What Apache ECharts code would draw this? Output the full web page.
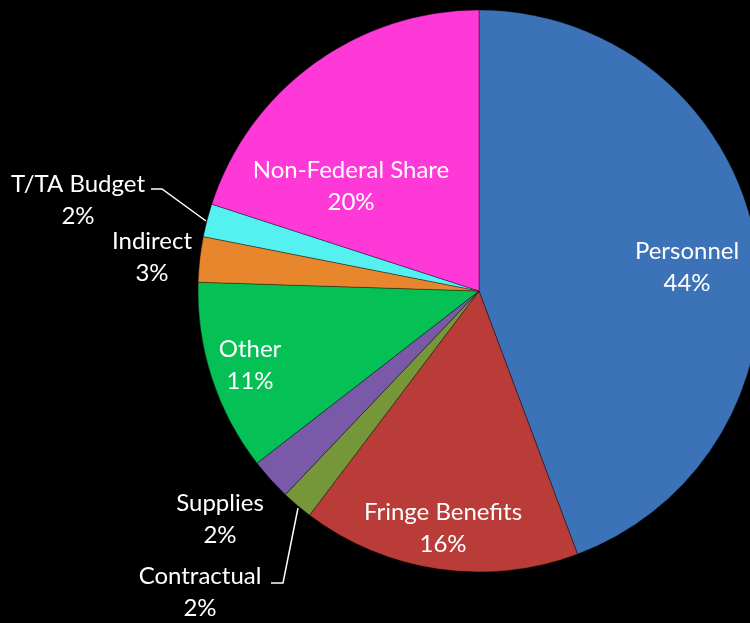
<!DOCTYPE html>
<html>
<head>
<meta charset="utf-8">
<script src="https://cdn.jsdelivr.net/npm/echarts@6/dist/echarts.min.js"></script>
<style>
html,body{margin:0;padding:0;background:#000;}
#chart{width:750px;height:623px;}
</style>
</head>
<body>
<div id="chart"></div>
<script>
const categories = ['Personnel','Fringe Benefits','Contractual','Supplies','Other','Indirect','T/TA Budget','Non-Federal Share'];
const values = [44.3, 16.0, 1.8, 2.4, 11.0, 2.6, 1.9, 20.0];
const percentLabels = ['44%','16%','2%','2%','11%','3%','2%','20%'];
const colors = ['#3B72B8','#B93C38','#76963A','#7A5AA8','#05C055','#E8862E','#55F0F0','#FF38D8'];

// label placement (layout only)
const labelPos = [
  [687,267],[443,528],[200,592],[220,519],[250,365],[152,257],[78,200],[351,186]
];
const leaderLines = {
  2: [[298,508],[283,583],[271,583]],
  6: [[206,221],[162,189],[151,189]]
};

const chart = echarts.init(document.getElementById('chart'));
chart.setOption({
  backgroundColor: '#000',
  animation: false,
  series: [{
    type: 'pie',
    center: [479, 291],
    radius: 281,
    startAngle: 90,
    clockwise: true,
    avoidLabelOverlap: false,
    itemStyle: { borderColor: 'rgba(0,0,0,0.35)', borderWidth: 1 },
    label: {
      show: true,
      position: 'outside',
      color: '#fff',
      fontFamily: 'Lato',
      fontSize: 24,
      lineHeight: 32,
      align: 'center',
      formatter: p => categories[p.dataIndex] + '\n' + percentLabels[p.dataIndex]
    },
    labelLine: { show: false, lineStyle: { color: '#fff', width: 1.5 } },
    labelLayout: function (params) {
      const i = params.dataIndex;
      const r = {
        x: labelPos[i][0],
        y: labelPos[i][1],
        align: 'center',
        verticalAlign: 'middle'
      };
      if (leaderLines[i]) r.labelLinePoints = leaderLines[i];
      return r;
    },
    data: categories.map((c, i) => ({
      name: c,
      value: values[i],
      itemStyle: { color: colors[i] },
      labelLine: { show: !!leaderLines[i], length: 10, length2: 10 }
    }))
  }]
});
</script>
</body>
</html>
